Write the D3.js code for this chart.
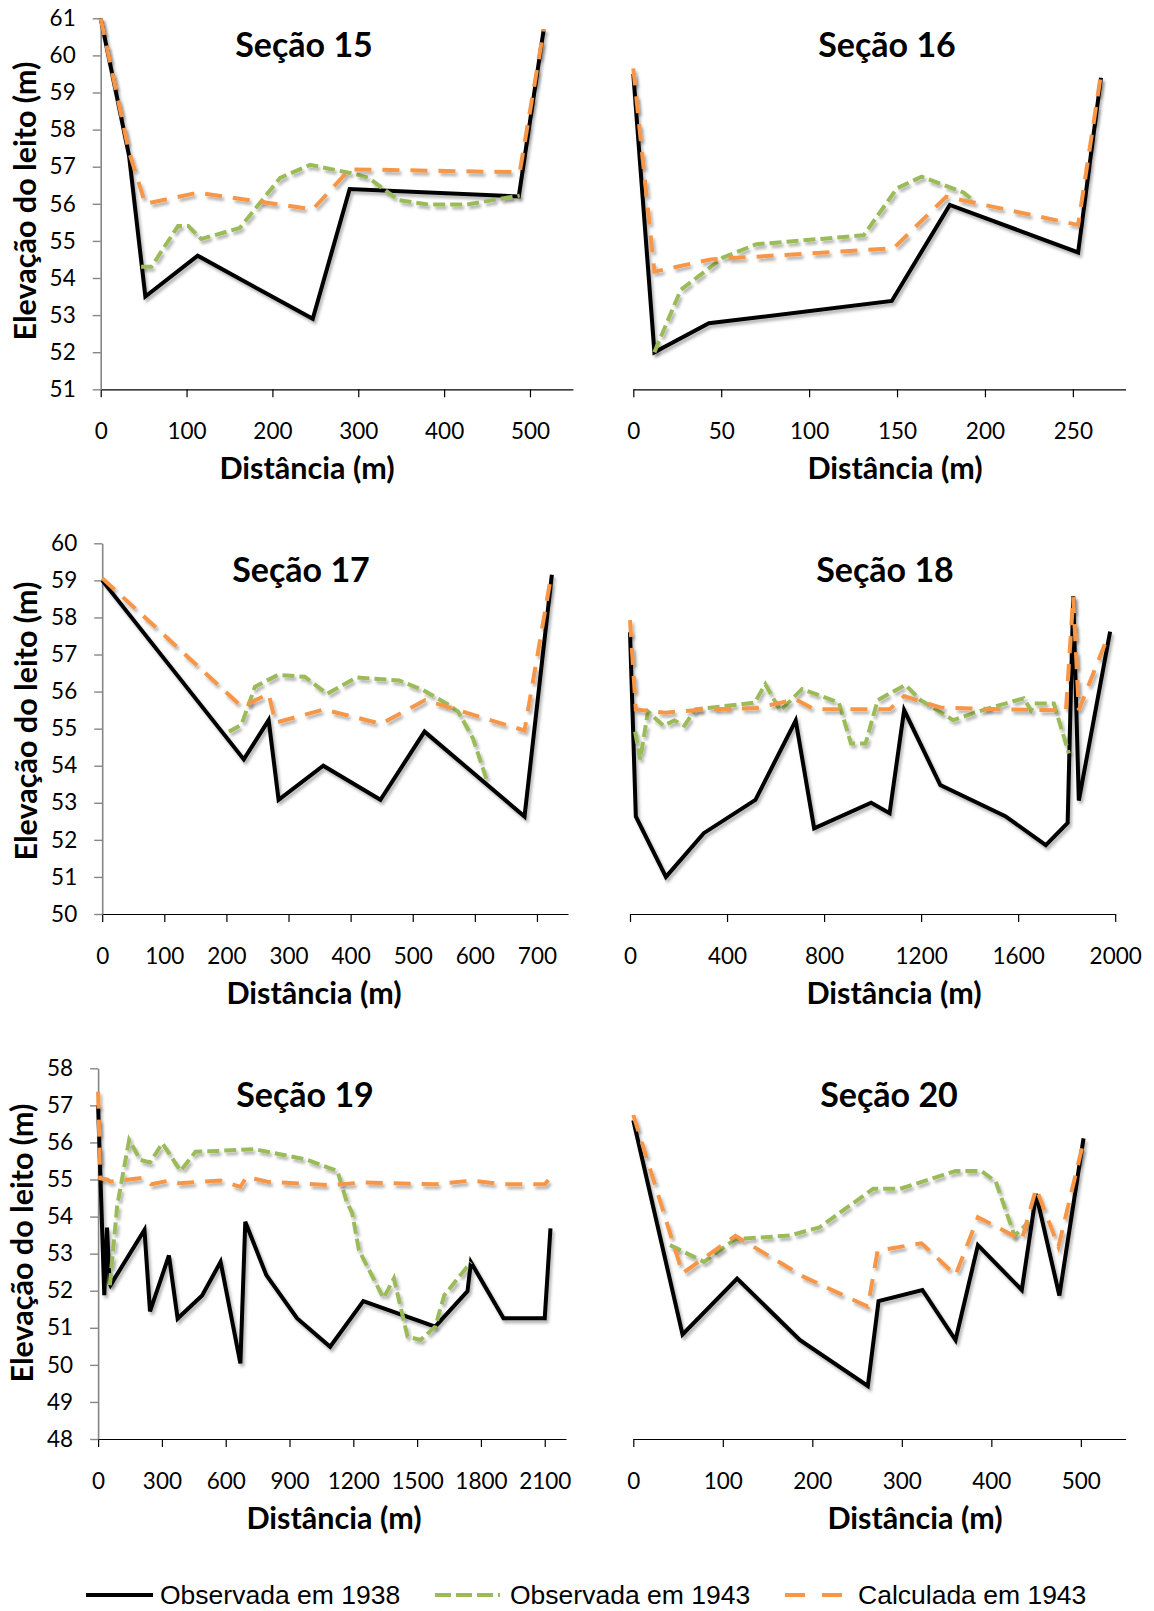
<!DOCTYPE html>
<html>
<head>
<meta charset="utf-8">
<script src="https://cdn.jsdelivr.net/npm/d3@7/dist/d3.min.js"></script>
<style>
  html, body { margin: 0; padding: 0; background: #fff; }
  svg { display: block; }
  .tick text { font-family: Lato, "Open Sans", sans-serif; font-size: 22.5px; fill: #000; }
  .ptitle { font-family: Lato, sans-serif; font-weight: 700; font-size: 34px; fill: #000; }
  .atitle { font-family: Lato, sans-serif; font-weight: 700; font-size: 30.5px; fill: #000; }
  .legend text { font-family: "Liberation Sans", Arial, sans-serif; font-size: 26.5px; fill: #000; }
</style>
</head>
<body>
<svg id="chart" width="1154" height="1611"></svg>
<script>
// Cross-section profiles: [distance (m), bed elevation (m)]
const seriesNames = ["Observada em 1938", "Observada em 1943", "Calculada em 1943"];
const sectionTitles = ["Seção 15", "Seção 16", "Seção 17", "Seção 18", "Seção 19", "Seção 20"];

const s15_obs1938 = [[0,61.0],[33,57.3],[52,53.5],[113,54.6],[247,52.9],[290,56.4],[487,56.2],[516,60.7]];
const s15_obs1943 = [[47,54.3],[59,54.3],[90,55.4],[102,55.4],[117,55.05],[162,55.35],[209,56.7],[244,57.05],[297,56.8],[312,56.7],[347,56.1],[381,55.98],[426,55.98],[488,56.22]];
const s15_calc1943 = [[0,61.0],[33,57.4],[52,56.0],[113,56.3],[247,55.85],[290,56.93],[488,56.85],[516,60.7]];

const s16_obs1938 = [[0,59.5],[12,52.0],[43,52.78],[147,53.38],[180,55.97],[253,54.69],[266,59.4]];
const s16_obs1943 = [[12,52.0],[27,53.68],[51,54.55],[70,54.91],[131,55.15],[150,56.42],[164,56.73],[188,56.3],[194,56.06]];
const s16_calc1943 = [[0,59.65],[12,54.17],[44,54.5],[148,54.8],[178,56.19],[253,55.43],[266,59.5]];

const s17_obs1938 = [[0,59.0],[228,54.17],[268,55.23],[284,53.08],[356,54.0],[448,53.08],[519,54.92],[680,52.63],[724,59.15]];
const s17_obs1943 = [[204,54.92],[224,55.1],[246,56.13],[283,56.45],[326,56.4],[362,55.94],[410,56.38],[478,56.3],[517,56.04],[558,55.64],[573,55.46],[597,54.74],[620,53.57]];
const s17_calc1943 = [[0,59.06],[225,55.59],[268,55.94],[279,55.16],[357,55.52],[449,55.13],[520,55.77],[680,54.95],[722,59.05]];

const s18_obs1938 = [[0,57.6],[24,52.63],[148,51.0],[304,52.18],[517,53.08],[683,55.22],[759,52.31],[994,53.0],[1070,52.72],[1130,55.5],[1279,53.48],[1547,52.64],[1714,51.86],[1804,52.46],[1827,58.58],[1850,53.06],[1979,57.62]];
const s18_obs1943 = [[21,54.92],[42,54.17],[74,55.46],[138,55.08],[183,55.22],[224,55.08],[270,55.52],[514,55.7],[558,56.2],[620,55.48],[709,56.07],[861,55.7],[911,54.6],[971,54.6],[1021,55.77],[1135,56.18],[1198,55.77],[1332,55.23],[1463,55.52],[1623,55.82],[1653,55.49],[1668,55.68],[1747,55.68],[1809,54.33]];
const s18_calc1943 = [[0,57.93],[24,55.52],[145,55.43],[304,55.52],[517,55.55],[683,55.79],[759,55.52],[1070,55.52],[1130,55.88],[1279,55.57],[1547,55.52],[1797,55.49],[1827,58.56],[1850,55.5],[1964,57.39]];

const s19_obs1938 = [[0,57.0],[29,51.88],[42,53.7],[54,52.2],[58,52.15],[218,53.64],[244,51.44],[333,52.95],[374,51.25],[489,51.87],[576,52.78],[669,50.04],[692,53.86],[791,52.42],[935,51.26],[1091,50.49],[1247,51.72],[1585,51.03],[1737,51.99],[1753,52.77],[1906,51.26],[2100,51.26],[2127,53.68]];
const s19_obs1943 = [[55,52.15],[90,54.3],[146,56.07],[198,55.53],[244,55.46],[302,55.98],[388,55.23],[458,55.75],[560,55.77],[735,55.82],[978,55.54],[1125,55.23],[1169,54.4],[1195,54.09],[1226,53.1],[1342,51.8],[1391,52.33],[1455,50.76],[1516,50.67],[1585,51.03],[1628,51.88],[1753,52.77]];
const s19_calc1943 = [[0,57.37],[10,55.03],[42,55.0],[58,54.94],[215,55.05],[250,54.87],[333,54.97],[380,54.9],[576,54.97],[669,54.8],[697,55.07],[796,54.94],[1091,54.85],[1247,54.92],[1585,54.87],[1755,54.97],[1906,54.87],[2100,54.87],[2127,55.05]];

const s20_obs1938 = [[0,56.6],[55,50.82],[116,52.33],[186,50.67],[262,49.43],[274,51.72],[323,52.02],[360,50.67],[385,53.23],[434,52.02],[450,54.61],[476,51.87],[503,56.11]];
const s20_obs1943 = [[41,53.23],[79,52.78],[114,53.39],[175,53.49],[208,53.71],[268,54.75],[298,54.75],[360,55.23],[389,55.23],[405,54.94],[426,53.48],[442,53.86]];
const s20_calc1943 = [[0,56.74],[55,52.47],[114,53.48],[190,52.38],[262,51.57],[273,53.08],[322,53.28],[360,52.42],[385,53.98],[434,53.37],[450,54.76],[475,53.19],[502,55.93]];

// Axis domains and tick labels
const xDomains = [[0,550],[0,280],[0,750],[0,2000],[0,2200],[0,550]];
const yDomains = [[51,61],[51,61],[50,60],[50,60],[48,58],[48,58]];
const xTickValues = [
  [0,100,200,300,400,500],
  [0,50,100,150,200,250],
  [0,100,200,300,400,500,600,700],
  [0,400,800,1200,1600,2000],
  [0,300,600,900,1200,1500,1800,2100],
  [0,100,200,300,400,500]
];
const yTickValues = [
  d3.range(51, 62), null,
  d3.range(50, 61), null,
  d3.range(48, 59), null
];
const xAxisTitle = "Distância (m)";
const yAxisTitle = "Elevação do leito (m)";

const seriesData = [
  [s15_obs1938, s15_obs1943, s15_calc1943],
  [s16_obs1938, s16_obs1943, s16_calc1943],
  [s17_obs1938, s17_obs1943, s17_calc1943],
  [s18_obs1938, s18_obs1943, s18_calc1943],
  [s19_obs1938, s19_obs1943, s19_calc1943],
  [s20_obs1938, s20_obs1943, s20_calc1943]
];

// Panel geometry (pixels)
const layout = [
  {x0: 100.7, x1: 572.9, top: 18.3,  bot: 389.3, titleX: 304, xTitleX: 307, yTitleY: 201},
  {x0: 633.3, x1: 1125.6, top: 18.3, bot: 389.3, titleX: 887, xTitleX: 895},
  {x0: 102.2, x1: 568.0, top: 543.3, bot: 914.0, titleX: 301, xTitleX: 314, yTitleY: 721},
  {x0: 630.0, x1: 1115.2, top: 543.3, bot: 914.0, titleX: 885, xTitleX: 894},
  {x0: 98.1,  x1: 566.0, top: 1068.3, bot: 1439.0, titleX: 305, xTitleX: 334, yTitleY: 1243},
  {x0: 633.3, x1: 1125.6, top: 1068.3, bot: 1439.0, titleX: 889, xTitleX: 915}
];

const seriesStyle = [
  {color: "#000000", width: 4,   dash: null,    legendDash: null},
  {color: "#9BBB59", width: 4,   dash: "12,5",  legendDash: "16,5"},
  {color: "#F79646", width: 4,   dash: "17,11", legendDash: "20,17"}
];

const svg = d3.select("#chart");

const defs = svg.append("defs");
const shadow = defs.append("filter").attr("id", "lineShadow")
  .attr("x", "-10%").attr("y", "-10%").attr("width", "120%").attr("height", "120%");
shadow.append("feDropShadow")
  .attr("dx", 2).attr("dy", 3).attr("stdDeviation", 1.8)
  .attr("flood-color", "#000").attr("flood-opacity", 0.3);

layout.forEach((L, i) => {
  const x = d3.scaleLinear().domain(xDomains[i]).range([L.x0, L.x1]);
  const y = d3.scaleLinear().domain(yDomains[i]).range([L.bot, L.top]);
  const g = svg.append("g").attr("class", "panel");

  // x axis
  const xAxis = d3.axisBottom(x).tickValues(xTickValues[i]).tickFormat(d3.format("d"))
    .tickSize(8).tickSizeOuter(0).tickPadding(26);
  const gx = g.append("g").attr("transform", `translate(0,${L.bot})`).call(xAxis);
  gx.select(".domain").attr("stroke", "#000").attr("stroke-width", 1.2);
  gx.selectAll(".tick line").attr("stroke", "#000").attr("stroke-width", 1.2);

  // y axis (left column only)
  if (yTickValues[i]) {
    const yAxis = d3.axisLeft(y).tickValues(yTickValues[i]).tickFormat(d3.format("d"))
      .tickSize(8).tickSizeOuter(0).tickPadding(17);
    const gy = g.append("g").attr("transform", `translate(${L.x0},0)`).call(yAxis);
    gy.select(".domain").attr("stroke", "#868686").attr("stroke-width", 1.6);
    gy.selectAll(".tick line").attr("stroke", "#868686").attr("stroke-width", 1.4);
    gy.selectAll(".tick text").attr("text-anchor", "end");

    g.append("text").attr("class", "atitle")
      .attr("transform", `translate(${L.x0 - 65},${L.yTitleY}) rotate(-90)`)
      .attr("text-anchor", "middle")
      .text(yAxisTitle);
  }

  // data lines: 1938 observed, 1943 observed, 1943 computed
  const line = d3.line().x(d => x(d[0])).y(d => y(d[1]));
  seriesData[i].forEach((data, k) => {
    const st = seriesStyle[k];
    g.append("path")
      .datum(data)
      .attr("d", line)
      .attr("fill", "none")
      .attr("stroke", st.color)
      .attr("stroke-width", st.width)
      .attr("stroke-dasharray", st.dash)
      .attr("stroke-linejoin", "miter")
      .attr("filter", "url(#lineShadow)");
  });

  // panel title
  g.append("text").attr("class", "ptitle")
    .attr("x", L.titleX).attr("y", L.top + 39)
    .attr("text-anchor", "middle")
    .text(sectionTitles[i]);

  // x axis title
  g.append("text").attr("class", "atitle")
    .attr("x", L.xTitleX).attr("y", L.bot + 90)
    .attr("text-anchor", "middle")
    .text(xAxisTitle);
});

// legend
const legendItems = [
  {x0: 86,  x1: 153, tx: 160},
  {x0: 435, x1: 500, tx: 510},
  {x0: 785, x1: 843, tx: 858}
];
const lg = svg.append("g").attr("class", "legend");
legendItems.forEach((it, k) => {
  const st = seriesStyle[k];
  lg.append("line")
    .attr("x1", it.x0).attr("x2", it.x1)
    .attr("y1", 1595).attr("y2", 1595)
    .attr("stroke", st.color)
    .attr("stroke-width", st.width)
    .attr("stroke-dasharray", st.legendDash);
  lg.append("text").attr("x", it.tx).attr("y", 1604).text(seriesNames[k]);
});
</script>
</body>
</html>
